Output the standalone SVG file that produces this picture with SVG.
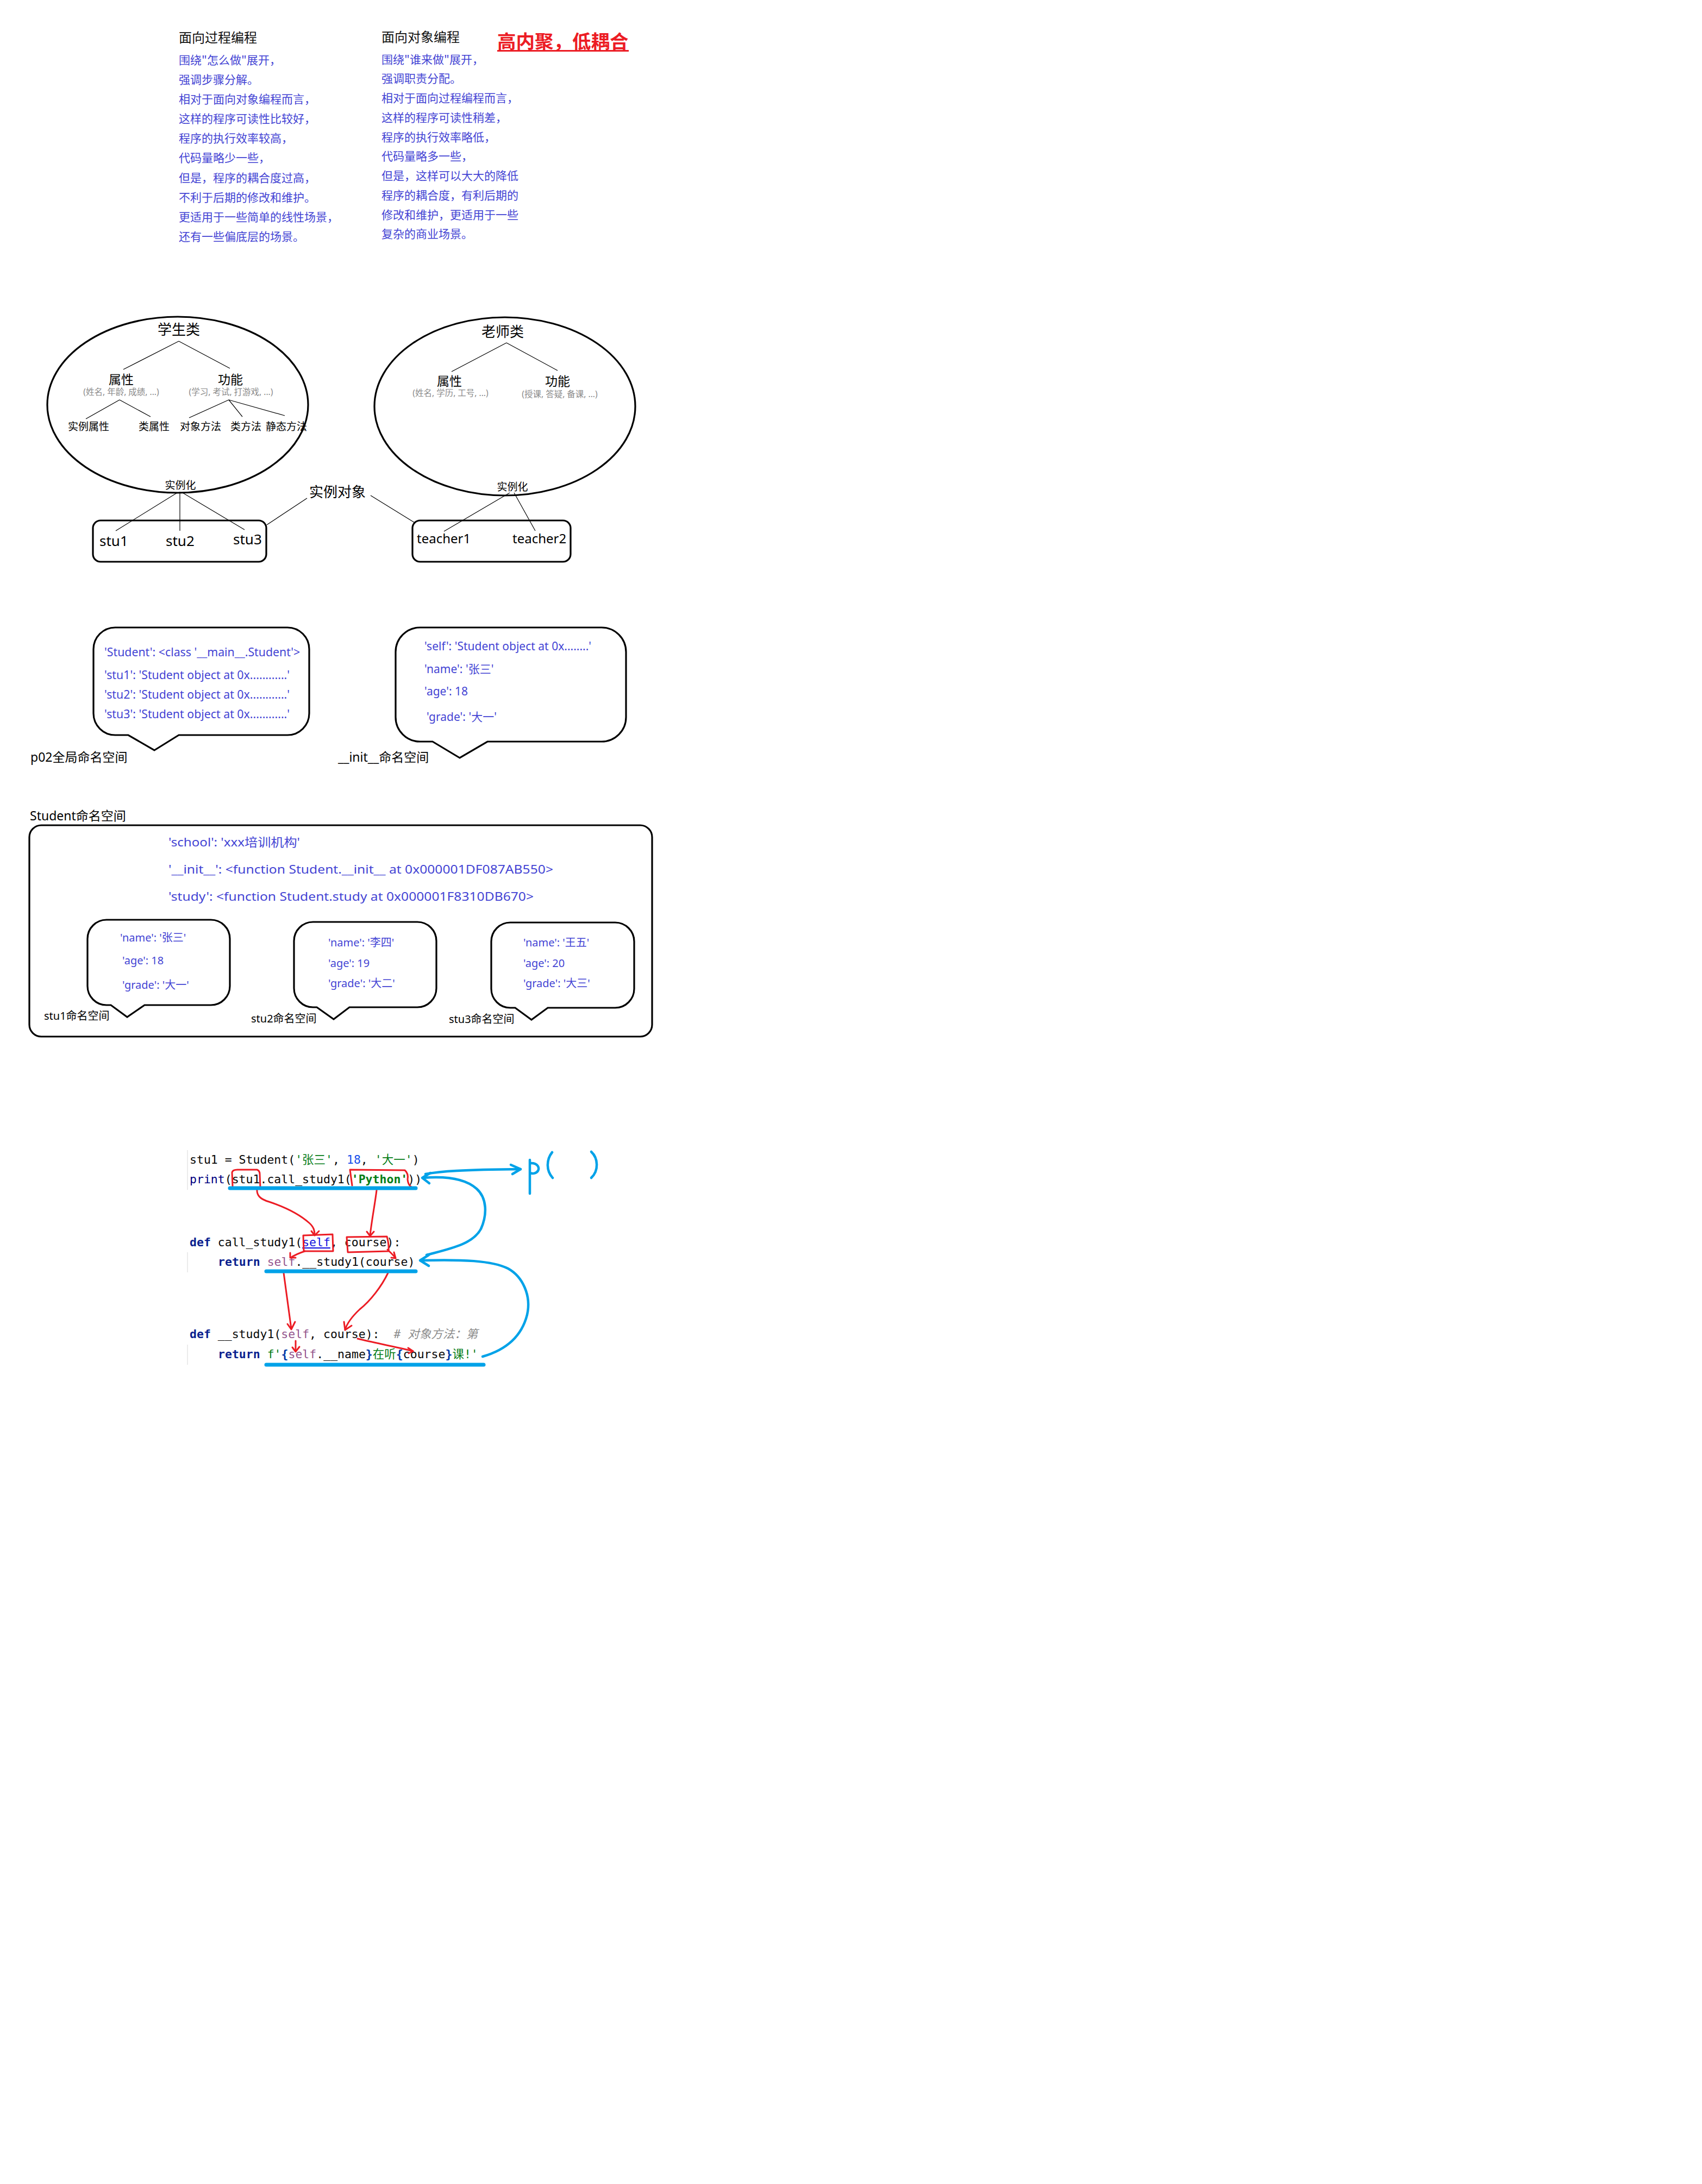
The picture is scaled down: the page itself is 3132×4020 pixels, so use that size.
<svg xmlns="http://www.w3.org/2000/svg" width="3132" height="4020" viewBox="0 0 3132 4020">
<style>
.bg{fill:#fff}
.t{font-family:"Noto Sans","Noto Sans CJK SC",sans-serif;fill:#000}
.cn{font-family:"Noto Sans CJK SC",sans-serif}
.body{font-size:21px;fill:#4444d4}
.title{font-size:24px;fill:#111}
.blue{fill:#4444d4}
.gray{fill:#8a8a8a;font-size:15.5px}
.thin{stroke:#000;stroke-width:1.2;fill:none}
.thick{stroke:#000;stroke-width:3.2;fill:none}
.code{font-family:"DejaVu Sans Mono","Noto Sans CJK SC",monospace;font-size:21.5px;fill:#080808;white-space:pre}
.kw{fill:#0a1f8f;font-weight:bold}
.bi{fill:#000080}
.str{fill:#067d17}
.strb{fill:#067d17;font-weight:bold}
.num{fill:#1750eb}
.self{fill:#94558d}
.selfp{fill:#1515e0;text-decoration:underline}
.cmt{fill:#8c8c8c;font-style:italic}
.br{fill:#0037a6;font-weight:bold}
.red{stroke:#ec1c24;stroke-width:3;fill:none;stroke-linecap:round;stroke-linejoin:round}
.cy{stroke:#00a2e8;stroke-width:4.5;fill:none;stroke-linecap:round;stroke-linejoin:round}
.cyu{stroke:#00a2e8;stroke-width:7;fill:none;stroke-linecap:round}
.gut{stroke:#e4e4e4;stroke-width:1.5}
</style>
<rect class="bg" x="0" y="0" width="3132" height="4020"/>

<!-- Top comparison text -->
<g id="procedural" class="t cn">
<text class="title" x="329" y="78">面向过程编程</text>
<g class="body">
<text x="329" y="118">围绕"怎么做"展开，</text>
<text x="329" y="154">强调步骤分解。</text>
<text x="329" y="190">相对于面向对象编程而言，</text>
<text x="329" y="226">这样的程序可读性比较好，</text>
<text x="329" y="262">程序的执行效率较高，</text>
<text x="329" y="298">代码量略少一些，</text>
<text x="329" y="335">但是，程序的耦合度过高，</text>
<text x="329" y="371">不利于后期的修改和维护。</text>
<text x="329" y="407">更适用于一些简单的线性场景，</text>
<text x="329" y="443">还有一些偏底层的场景。</text>
</g>
</g>
<g id="oop" class="t cn">
<text class="title" x="702" y="77">面向对象编程</text>
<g class="body">
<text x="702" y="117">围绕"谁来做"展开，</text>
<text x="702" y="152">强调职责分配。</text>
<text x="702" y="188">相对于面向过程编程而言，</text>
<text x="702" y="224">这样的程序可读性稍差，</text>
<text x="702" y="260">程序的执行效率略低，</text>
<text x="702" y="295">代码量略多一些，</text>
<text x="702" y="331">但是，这样可以大大的降低</text>
<text x="702" y="367">程序的耦合度，有利后期的</text>
<text x="702" y="403">修改和维护，更适用于一些</text>
<text x="702" y="438">复杂的商业场景。</text>
</g>
</g>
<g id="slogan">
<text class="cn" x="915" y="89" font-size="34.5" font-weight="bold" fill="#ec1c24">高内聚，低耦合</text>
<line x1="915" y1="93.5" x2="1157" y2="93.5" stroke="#ec1c24" stroke-width="3"/>
</g>

<!-- Class diagram -->
<g id="student-class" class="t">
<ellipse class="thick" cx="327" cy="745" rx="240" ry="162"/>
<text x="329" y="616" font-size="26" text-anchor="middle">学生类</text>
<text x="223" y="707" font-size="23" text-anchor="middle">属性</text>
<text class="gray" x="223" y="727" text-anchor="middle">(姓名, 年龄, 成绩, ...)</text>
<text x="424" y="707" font-size="23" text-anchor="middle">功能</text>
<text class="gray" x="425" y="727" text-anchor="middle">(学习, 考试, 打游戏, ...)</text>
<g font-size="19">
<text x="125" y="792">实例属性</text>
<text x="255" y="792">类属性</text>
<text x="331" y="792">对象方法</text>
<text x="424" y="792">类方法</text>
<text x="489" y="792">静态方法</text>
</g>
<text x="332" y="900" font-size="19" text-anchor="middle">实例化</text>
</g>
<g id="student-objects" class="t">
<rect class="thick" x="171" y="958" width="319" height="76" rx="14"/>
<text x="183" y="1005" font-size="26">stu1</text>
<text x="305" y="1005" font-size="26">stu2</text>
<text x="429" y="1002" font-size="26">stu3</text>
</g>
<g id="teacher-class" class="t">
<ellipse class="thick" cx="929" cy="748" rx="240" ry="164"/>
<text x="925" y="620" font-size="26" text-anchor="middle">老师类</text>
<text x="827" y="710" font-size="23" text-anchor="middle">属性</text>
<text class="gray" x="829" y="729" text-anchor="middle">(姓名, 学历, 工号, ...)</text>
<text x="1026" y="710" font-size="23" text-anchor="middle">功能</text>
<text class="gray" x="1030" y="731" text-anchor="middle">(授课, 答疑, 备课, ...)</text>
<text x="943" y="903" font-size="19" text-anchor="middle">实例化</text>
</g>
<g id="teacher-objects" class="t">
<rect class="thick" x="759" y="958" width="291" height="76" rx="14"/>
<text x="767" y="1000" font-size="24">teacher1</text>
<text x="943" y="1000" font-size="24">teacher2</text>
</g>
<g id="instance-label" class="t">
<text x="569" y="915" font-size="26">实例对象</text>
</g>

<g id="connectors" class="thin">
<path d="M329,628 L227,680 M329,628 L423,678"/>
<path d="M220,736 L158,771 M220,736 L277,767"/>
<path d="M421,736 L348,769 M421,736 L446,767 M421,736 L524,765"/>
<path d="M326,907 L213,977 M331,905 L331,977 M336,907 L450,975"/>
<path d="M491,966 L565,917"/>
<path d="M932,631 L831,684 M932,631 L1026,682"/>
<path d="M938,907 L817,978 M946,907 L985,977"/>
<path d="M682,912 L763,962"/>
</g>

<!-- Namespace bubbles -->
<g id="global-ns" class="t">
<path class="thick" d="M212,1155 H529 A40,40 0 0 1 569,1195 V1313 A40,40 0 0 1 529,1353 H329 L284,1381 L236,1353 H212 A40,40 0 0 1 172,1313 V1195 A40,40 0 0 1 212,1155 Z"/>
<g class="blue" font-size="21.3">
<text x="192" y="1208">'Student': &lt;class '__main__.Student'&gt;</text>
<text x="192" y="1250">'stu1': 'Student object at 0x............'</text>
<text x="192" y="1286">'stu2': 'Student object at 0x............'</text>
<text x="192" y="1322">'stu3': 'Student object at 0x............'</text>
</g>
<text x="56" y="1402" font-size="23">p02全局命名空间</text>
</g>
<g id="init-ns" class="t">
<path class="thick" d="M773,1155 H1107 A45,45 0 0 1 1152,1200 V1320 A45,45 0 0 1 1107,1365 H897 L846,1395 L796,1365 H773 A45,45 0 0 1 728,1320 V1200 A45,45 0 0 1 773,1155 Z"/>
<g class="blue" font-size="21">
<text x="781" y="1197">'self': 'Student object at 0x........'</text>
<text x="781" y="1239">'name': '张三'</text>
<text x="781" y="1280">'age': 18</text>
<text x="785" y="1327">'grade': '大一'</text>
</g>
<text x="622" y="1402" font-size="23">__init__命名空间</text>
</g>

<g id="student-ns" class="t">
<text x="55" y="1510" font-size="23">Student命名空间</text>
<rect class="thick" x="54" y="1519" width="1146" height="389" rx="22"/>
<g class="blue" font-size="22">
<text x="310" y="1558" textLength="242" lengthAdjust="spacingAndGlyphs">'school': 'xxx培训机构'</text>
<text x="310" y="1608" textLength="708" lengthAdjust="spacingAndGlyphs">'__init__': &lt;function Student.__init__ at 0x000001DF087AB550&gt;</text>
<text x="310" y="1658" textLength="672" lengthAdjust="spacingAndGlyphs">'study': &lt;function Student.study at 0x000001F8310DB670&gt;</text>
</g>
</g>
<g id="stu1-ns" class="t">
<path class="thick" d="M196,1693 H388 A35,35 0 0 1 423,1728 V1815 A35,35 0 0 1 388,1850 H266 L234,1872 L204,1850 H196 A35,35 0 0 1 161,1815 V1728 A35,35 0 0 1 196,1693 Z"/>
<g class="blue" font-size="20">
<text x="221" y="1733">'name': '张三'</text>
<text x="225" y="1775">'age': 18</text>
<text x="225" y="1820">'grade': '大一'</text>
</g>
<text x="81" y="1877" font-size="20">stu1命名空间</text>
</g>
<g id="stu2-ns" class="t">
<path class="thick" d="M576,1697 H768 A35,35 0 0 1 803,1732 V1819 A35,35 0 0 1 768,1854 H643 L614,1876 L583,1854 H576 A35,35 0 0 1 541,1819 V1732 A35,35 0 0 1 576,1697 Z"/>
<g class="blue" font-size="20">
<text x="604" y="1742">'name': '李四'</text>
<text x="604" y="1780">'age': 19</text>
<text x="604" y="1817">'grade': '大二'</text>
</g>
<text x="462" y="1882" font-size="20">stu2命名空间</text>
</g>
<g id="stu3-ns" class="t">
<path class="thick" d="M939,1698 H1132 A35,35 0 0 1 1167,1733 V1820 A35,35 0 0 1 1132,1855 H1008 L978,1877 L948,1855 H939 A35,35 0 0 1 904,1820 V1733 A35,35 0 0 1 939,1698 Z"/>
<g class="blue" font-size="20">
<text x="963" y="1742">'name': '王五'</text>
<text x="963" y="1780">'age': 20</text>
<text x="963" y="1817">'grade': '大三'</text>
</g>
<text x="826" y="1883" font-size="20">stu3命名空间</text>
</g>

<!-- Code snippet -->
<g id="code">
<line class="gut" x1="345" y1="2117" x2="345" y2="2190"/>
<line class="gut" x1="345" y1="2305" x2="345" y2="2342"/>
<line class="gut" x1="345" y1="2475" x2="345" y2="2512"/>
<text class="code" x="349" y="2142">stu1 = Student(<tspan class="str">'张三'</tspan>, <tspan class="num">18</tspan>, <tspan class="str">'大一'</tspan>)</text>
<text class="code" x="349" y="2178"><tspan class="bi">print</tspan>(stu1.call_study1(<tspan class="strb">'Python'</tspan>))</text>
<text class="code" x="349" y="2294"><tspan class="kw">def</tspan> call_study1(<tspan class="selfp">self</tspan>, course):</text>
<text class="code" x="401" y="2330"><tspan class="kw">return</tspan> <tspan class="self">self</tspan>.__study1(course)</text>
<text class="code" x="349" y="2463"><tspan class="kw">def</tspan> __study1(<tspan class="self">self</tspan>, course):  <tspan class="cmt"># 对象方法：第</tspan></text>
<text class="code" x="401" y="2500"><tspan class="kw">return</tspan> <tspan class="str">f'</tspan><tspan class="br">{</tspan><tspan class="self">self</tspan>.__name<tspan class="br">}</tspan><tspan class="str">在听</tspan><tspan class="br">{</tspan>course<tspan class="br">}</tspan><tspan class="str">课!'</tspan></text>
</g>

<g id="annotations">
<!-- red markings -->
<path class="red" d="M428,2183 L427,2158 Q428,2153 437,2153 L473,2153 Q478,2155 478,2161 L479,2186"/>
<path class="red" d="M648,2182 L644,2153 L745,2154 Q752,2160 750,2171 Q751,2181 757,2185"/>
<path class="red" d="M473,2188 C472,2200 478,2207 495,2212 C525,2222 552,2236 569,2251 C578,2259 579,2266 579,2273"/>
<path class="red" d="M573,2266 L579,2274 L587,2266"/>
<path class="red" d="M693,2191 C690,2216 684,2246 681,2274"/>
<path class="red" d="M675,2267 L681,2275 L688,2267"/>
<path class="red" d="M558,2274 L612,2272 L613,2303 L559,2303 Z"/>
<path class="red" d="M638,2277 L712,2276 Q716,2290 715,2303 L640,2305 Z"/>
<path class="red" d="M561,2303 C552,2306 542,2310 535,2315"/>
<path class="red" d="M534,2306 L534,2315 L544,2315"/>
<path class="red" d="M713,2300 C718,2305 724,2310 728,2316"/>
<path class="red" d="M725,2305 L728,2316 L720,2315"/>
<path class="red" d="M522,2343 C527,2380 532,2415 536,2446"/>
<path class="red" d="M529,2437 L536,2447 L543,2433"/>
<path class="red" d="M714,2343 C702,2368 682,2394 662,2410 C646,2425 638,2437 635,2448"/>
<path class="red" d="M633,2433 L635,2448 L647,2440"/>
<path class="red" d="M544,2468 L544,2487"/>
<path class="red" d="M538,2480 L544,2488 L551,2479"/>
<path class="red" d="M658,2464 C690,2472 725,2478 760,2487"/>
<path class="red" d="M751,2481 L760,2487 L752,2491"/>
<!-- blue markings -->
<path class="cyu" d="M423,2187 H765 M490,2340 H765 M490,2512 H890"/>
<path class="cy" d="M783,2161 C810,2156 850,2153 958,2152"/>
<path class="cy" d="M940,2144 L958,2152 L943,2161"/>
<path class="cy" d="M785,2310 C830,2298 870,2290 885,2262 C897,2235 896,2205 877,2188 C855,2168 815,2165 778,2168"/>
<path class="cy" d="M792,2159 L777,2168 L790,2178"/>
<path class="cy" d="M888,2497 C930,2485 960,2460 970,2420 C978,2385 962,2350 935,2335 C905,2320 850,2318 775,2320"/>
<path class="cy" d="M789,2310 L773,2320 L789,2330"/>
<path class="cy" d="M975,2135 L975,2197 M976,2141 C990,2140 993,2150 990,2155 C987,2160 980,2161 976,2159"/>
<path class="cy" d="M1016,2121 C1005,2135 1005,2155 1017,2168"/>
<path class="cy" d="M1088,2120 C1101,2132 1102,2155 1088,2168"/>
</g>
</svg>
